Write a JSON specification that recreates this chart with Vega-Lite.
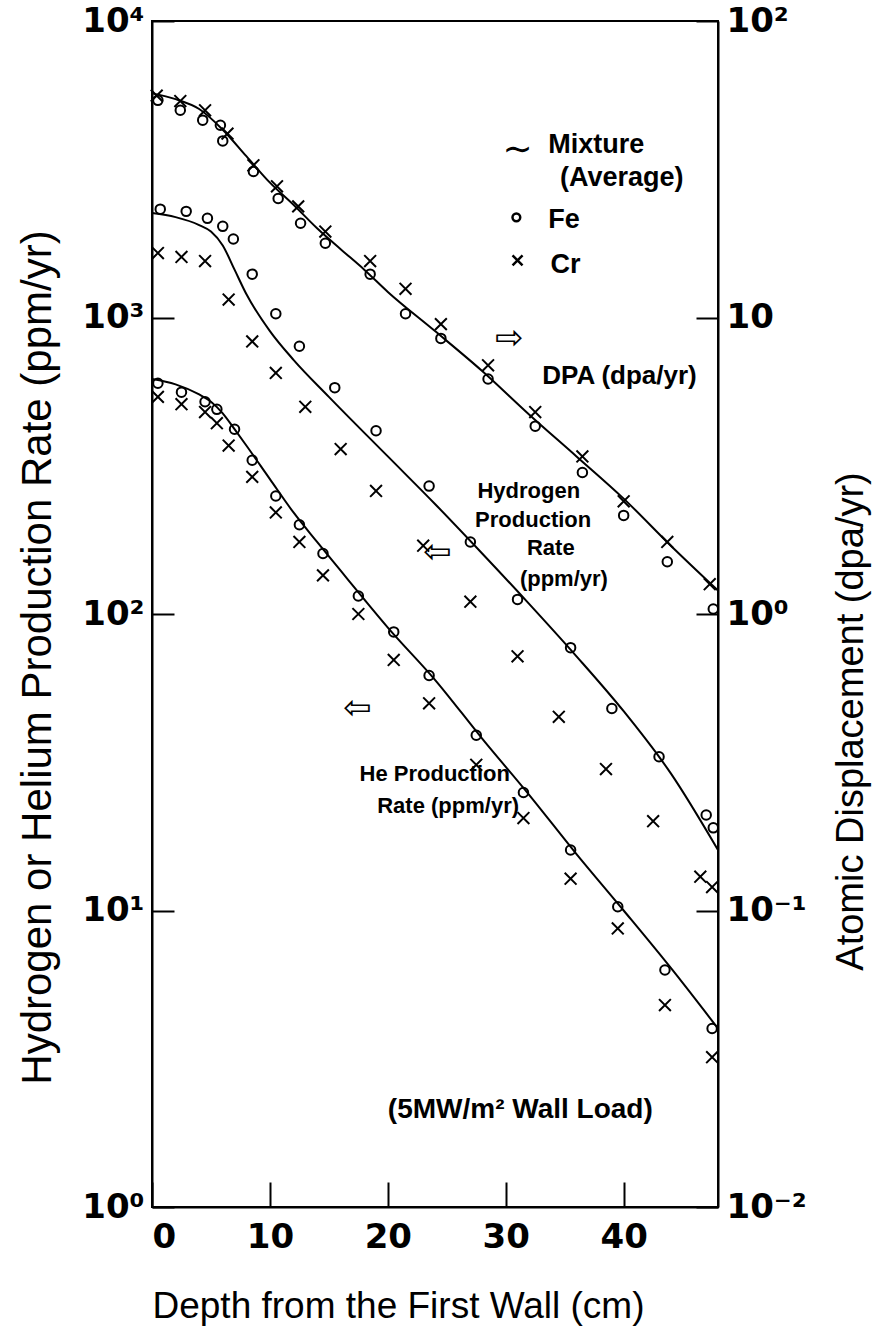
{
  "$schema": "https://vega.github.io/schema/vega-lite/v6.json",
  "width": 566,
  "height": 1186,
  "autosize": {"type": "none"},
  "padding": {"left": 152, "top": 21, "right": 172, "bottom": 124},
  "background": "white",
  "config": {
    "view": {"stroke": "black", "strokeWidth": 2},
    "font": "Liberation Sans",
    "axis": {
      "grid": false,
      "domainColor": "black",
      "domainWidth": 2,
      "tickColor": "black",
      "tickWidth": 2,
      "labelColor": "black",
      "titleColor": "black",
      "labelFont": "DejaVu Sans",
      "titleFont": "Liberation Sans",
      "labelFontWeight": "bold",
      "titleFontWeight": "normal"
    }
  },
  "datasets": {
    "production": [
      {"quantity": "H", "metal": "Fe", "depth": 0.7, "rate": 2320},
      {"quantity": "H", "metal": "Fe", "depth": 2.9, "rate": 2280},
      {"quantity": "H", "metal": "Fe", "depth": 4.7, "rate": 2160},
      {"quantity": "H", "metal": "Fe", "depth": 6.0, "rate": 2030},
      {"quantity": "H", "metal": "Fe", "depth": 6.9, "rate": 1840},
      {"quantity": "H", "metal": "Fe", "depth": 8.5, "rate": 1400},
      {"quantity": "H", "metal": "Fe", "depth": 10.5, "rate": 1030},
      {"quantity": "H", "metal": "Fe", "depth": 12.5, "rate": 800},
      {"quantity": "H", "metal": "Fe", "depth": 15.5, "rate": 580},
      {"quantity": "H", "metal": "Fe", "depth": 19, "rate": 415},
      {"quantity": "H", "metal": "Fe", "depth": 23.5, "rate": 270},
      {"quantity": "H", "metal": "Fe", "depth": 27, "rate": 175},
      {"quantity": "H", "metal": "Fe", "depth": 31, "rate": 112},
      {"quantity": "H", "metal": "Fe", "depth": 35.5, "rate": 77},
      {"quantity": "H", "metal": "Fe", "depth": 39, "rate": 48},
      {"quantity": "H", "metal": "Fe", "depth": 43, "rate": 33},
      {"quantity": "H", "metal": "Fe", "depth": 47, "rate": 21},
      {"quantity": "H", "metal": "Fe", "depth": 47.6, "rate": 19},
      {"quantity": "H", "metal": "Cr", "depth": 0.5, "rate": 1650},
      {"quantity": "H", "metal": "Cr", "depth": 2.5, "rate": 1600},
      {"quantity": "H", "metal": "Cr", "depth": 4.5, "rate": 1550},
      {"quantity": "H", "metal": "Cr", "depth": 6.5, "rate": 1150},
      {"quantity": "H", "metal": "Cr", "depth": 8.5, "rate": 830},
      {"quantity": "H", "metal": "Cr", "depth": 10.5, "rate": 650},
      {"quantity": "H", "metal": "Cr", "depth": 13, "rate": 500},
      {"quantity": "H", "metal": "Cr", "depth": 16, "rate": 360},
      {"quantity": "H", "metal": "Cr", "depth": 19, "rate": 260},
      {"quantity": "H", "metal": "Cr", "depth": 23, "rate": 170},
      {"quantity": "H", "metal": "Cr", "depth": 27, "rate": 110},
      {"quantity": "H", "metal": "Cr", "depth": 31, "rate": 72},
      {"quantity": "H", "metal": "Cr", "depth": 34.5, "rate": 45},
      {"quantity": "H", "metal": "Cr", "depth": 38.5, "rate": 30},
      {"quantity": "H", "metal": "Cr", "depth": 42.5, "rate": 20},
      {"quantity": "H", "metal": "Cr", "depth": 46.5, "rate": 13},
      {"quantity": "H", "metal": "Cr", "depth": 47.5, "rate": 12},
      {"quantity": "H", "metal": "Mix", "depth": 0, "rate": 2250},
      {"quantity": "H", "metal": "Mix", "depth": 2, "rate": 2180},
      {"quantity": "H", "metal": "Mix", "depth": 4, "rate": 2050},
      {"quantity": "H", "metal": "Mix", "depth": 5, "rate": 1950},
      {"quantity": "H", "metal": "Mix", "depth": 6, "rate": 1750},
      {"quantity": "H", "metal": "Mix", "depth": 7, "rate": 1450},
      {"quantity": "H", "metal": "Mix", "depth": 8, "rate": 1200},
      {"quantity": "H", "metal": "Mix", "depth": 10, "rate": 900},
      {"quantity": "H", "metal": "Mix", "depth": 12, "rate": 720},
      {"quantity": "H", "metal": "Mix", "depth": 15, "rate": 540},
      {"quantity": "H", "metal": "Mix", "depth": 20, "rate": 340},
      {"quantity": "H", "metal": "Mix", "depth": 24, "rate": 235},
      {"quantity": "H", "metal": "Mix", "depth": 28, "rate": 160},
      {"quantity": "H", "metal": "Mix", "depth": 32, "rate": 108},
      {"quantity": "H", "metal": "Mix", "depth": 36, "rate": 72},
      {"quantity": "H", "metal": "Mix", "depth": 40, "rate": 47},
      {"quantity": "H", "metal": "Mix", "depth": 44, "rate": 29},
      {"quantity": "H", "metal": "Mix", "depth": 48, "rate": 16},
      {"quantity": "He", "metal": "Fe", "depth": 0.5, "rate": 600},
      {"quantity": "He", "metal": "Fe", "depth": 2.5, "rate": 560},
      {"quantity": "He", "metal": "Fe", "depth": 4.5, "rate": 520},
      {"quantity": "He", "metal": "Fe", "depth": 5.5, "rate": 490},
      {"quantity": "He", "metal": "Fe", "depth": 7, "rate": 420},
      {"quantity": "He", "metal": "Fe", "depth": 8.5, "rate": 330},
      {"quantity": "He", "metal": "Fe", "depth": 10.5, "rate": 250},
      {"quantity": "He", "metal": "Fe", "depth": 12.5, "rate": 200},
      {"quantity": "He", "metal": "Fe", "depth": 14.5, "rate": 160},
      {"quantity": "He", "metal": "Fe", "depth": 17.5, "rate": 115},
      {"quantity": "He", "metal": "Fe", "depth": 20.5, "rate": 87},
      {"quantity": "He", "metal": "Fe", "depth": 23.5, "rate": 62},
      {"quantity": "He", "metal": "Fe", "depth": 27.5, "rate": 39},
      {"quantity": "He", "metal": "Fe", "depth": 31.5, "rate": 25},
      {"quantity": "He", "metal": "Fe", "depth": 35.5, "rate": 16},
      {"quantity": "He", "metal": "Fe", "depth": 39.5, "rate": 10.3},
      {"quantity": "He", "metal": "Fe", "depth": 43.5, "rate": 6.3},
      {"quantity": "He", "metal": "Fe", "depth": 47.5, "rate": 4.0},
      {"quantity": "He", "metal": "Cr", "depth": 0.5, "rate": 540},
      {"quantity": "He", "metal": "Cr", "depth": 2.5, "rate": 510},
      {"quantity": "He", "metal": "Cr", "depth": 4.5, "rate": 480},
      {"quantity": "He", "metal": "Cr", "depth": 5.5, "rate": 440},
      {"quantity": "He", "metal": "Cr", "depth": 6.5, "rate": 370},
      {"quantity": "He", "metal": "Cr", "depth": 8.5, "rate": 290},
      {"quantity": "He", "metal": "Cr", "depth": 10.5, "rate": 220},
      {"quantity": "He", "metal": "Cr", "depth": 12.5, "rate": 175},
      {"quantity": "He", "metal": "Cr", "depth": 14.5, "rate": 135},
      {"quantity": "He", "metal": "Cr", "depth": 17.5, "rate": 100},
      {"quantity": "He", "metal": "Cr", "depth": 20.5, "rate": 70},
      {"quantity": "He", "metal": "Cr", "depth": 23.5, "rate": 50},
      {"quantity": "He", "metal": "Cr", "depth": 27.5, "rate": 31},
      {"quantity": "He", "metal": "Cr", "depth": 31.5, "rate": 20.5},
      {"quantity": "He", "metal": "Cr", "depth": 35.5, "rate": 12.8},
      {"quantity": "He", "metal": "Cr", "depth": 39.5, "rate": 8.7},
      {"quantity": "He", "metal": "Cr", "depth": 43.5, "rate": 4.8},
      {"quantity": "He", "metal": "Cr", "depth": 47.5, "rate": 3.2},
      {"quantity": "He", "metal": "Mix", "depth": 0, "rate": 620},
      {"quantity": "He", "metal": "Mix", "depth": 2, "rate": 595},
      {"quantity": "He", "metal": "Mix", "depth": 4, "rate": 550},
      {"quantity": "He", "metal": "Mix", "depth": 5, "rate": 520},
      {"quantity": "He", "metal": "Mix", "depth": 6, "rate": 475},
      {"quantity": "He", "metal": "Mix", "depth": 7, "rate": 420},
      {"quantity": "He", "metal": "Mix", "depth": 8, "rate": 370},
      {"quantity": "He", "metal": "Mix", "depth": 10, "rate": 285},
      {"quantity": "He", "metal": "Mix", "depth": 12, "rate": 220},
      {"quantity": "He", "metal": "Mix", "depth": 14, "rate": 175},
      {"quantity": "He", "metal": "Mix", "depth": 16, "rate": 140},
      {"quantity": "He", "metal": "Mix", "depth": 18, "rate": 112},
      {"quantity": "He", "metal": "Mix", "depth": 20, "rate": 90},
      {"quantity": "He", "metal": "Mix", "depth": 24, "rate": 60},
      {"quantity": "He", "metal": "Mix", "depth": 28, "rate": 38},
      {"quantity": "He", "metal": "Mix", "depth": 32, "rate": 24.5},
      {"quantity": "He", "metal": "Mix", "depth": 36, "rate": 15.5},
      {"quantity": "He", "metal": "Mix", "depth": 40, "rate": 10},
      {"quantity": "He", "metal": "Mix", "depth": 44, "rate": 6.4},
      {"quantity": "He", "metal": "Mix", "depth": 48, "rate": 4.0}
    ],
    "dpa": [
      {"metal": "Fe", "depth": 0.5, "dpa": 54},
      {"metal": "Fe", "depth": 2.4, "dpa": 50},
      {"metal": "Fe", "depth": 4.3, "dpa": 46.3},
      {"metal": "Fe", "depth": 5.8, "dpa": 44.5},
      {"metal": "Fe", "depth": 6.0, "dpa": 39.4},
      {"metal": "Fe", "depth": 8.6, "dpa": 31.1},
      {"metal": "Fe", "depth": 10.7, "dpa": 25.2},
      {"metal": "Fe", "depth": 12.6, "dpa": 20.8},
      {"metal": "Fe", "depth": 14.7, "dpa": 17.8},
      {"metal": "Fe", "depth": 18.5, "dpa": 14},
      {"metal": "Fe", "depth": 21.5, "dpa": 10.3},
      {"metal": "Fe", "depth": 24.5, "dpa": 8.5},
      {"metal": "Fe", "depth": 28.5, "dpa": 6.2},
      {"metal": "Fe", "depth": 32.5, "dpa": 4.3},
      {"metal": "Fe", "depth": 36.5, "dpa": 3.0},
      {"metal": "Fe", "depth": 40, "dpa": 2.15},
      {"metal": "Fe", "depth": 43.7, "dpa": 1.5},
      {"metal": "Fe", "depth": 47.6, "dpa": 1.04},
      {"metal": "Cr", "depth": 0.4, "dpa": 56},
      {"metal": "Cr", "depth": 2.4, "dpa": 53.7},
      {"metal": "Cr", "depth": 4.5, "dpa": 50},
      {"metal": "Cr", "depth": 6.4, "dpa": 41.7},
      {"metal": "Cr", "depth": 8.6, "dpa": 32.6},
      {"metal": "Cr", "depth": 10.6, "dpa": 27.7},
      {"metal": "Cr", "depth": 12.4, "dpa": 23.7},
      {"metal": "Cr", "depth": 14.7, "dpa": 19.5},
      {"metal": "Cr", "depth": 18.5, "dpa": 15.5},
      {"metal": "Cr", "depth": 21.5, "dpa": 12.5},
      {"metal": "Cr", "depth": 24.5, "dpa": 9.5},
      {"metal": "Cr", "depth": 28.5, "dpa": 6.9},
      {"metal": "Cr", "depth": 32.5, "dpa": 4.8},
      {"metal": "Cr", "depth": 36.5, "dpa": 3.4},
      {"metal": "Cr", "depth": 40, "dpa": 2.4},
      {"metal": "Cr", "depth": 43.7, "dpa": 1.75},
      {"metal": "Cr", "depth": 47.3, "dpa": 1.26},
      {"metal": "Mix", "depth": 0, "dpa": 57},
      {"metal": "Mix", "depth": 2, "dpa": 54.5},
      {"metal": "Mix", "depth": 4, "dpa": 50.5},
      {"metal": "Mix", "depth": 6, "dpa": 43},
      {"metal": "Mix", "depth": 8, "dpa": 35},
      {"metal": "Mix", "depth": 10, "dpa": 28.5},
      {"metal": "Mix", "depth": 12, "dpa": 24},
      {"metal": "Mix", "depth": 14, "dpa": 20},
      {"metal": "Mix", "depth": 16, "dpa": 17},
      {"metal": "Mix", "depth": 18, "dpa": 14.5},
      {"metal": "Mix", "depth": 20, "dpa": 12.2},
      {"metal": "Mix", "depth": 24, "dpa": 9.0},
      {"metal": "Mix", "depth": 28, "dpa": 6.6},
      {"metal": "Mix", "depth": 32, "dpa": 4.7},
      {"metal": "Mix", "depth": 36, "dpa": 3.4},
      {"metal": "Mix", "depth": 40, "dpa": 2.45},
      {"metal": "Mix", "depth": 44, "dpa": 1.7},
      {"metal": "Mix", "depth": 48, "dpa": 1.2}
    ],
    "legend_text": [
      {"depth": 33.6, "rate": 3811, "label": "Mixture"},
      {"depth": 34.6, "rate": 2950, "label": "(Average)"},
      {"depth": 33.6, "rate": 2128, "label": "Fe"},
      {"depth": 33.8, "rate": 1499, "label": "Cr"}
    ],
    "legend_tilde": [{"depth": 31.0, "rate": 3665, "label": "∼"}],
    "legend_fe": [{"depth": 30.9, "rate": 2177}],
    "legend_cr": [{"depth": 31.0, "rate": 1559}],
    "notes": [
      {"depth": 27.6, "rate": 260, "label": "Hydrogen"},
      {"depth": 27.4, "rate": 208, "label": "Production"},
      {"depth": 31.8, "rate": 167, "label": "Rate"},
      {"depth": 31.2, "rate": 131, "label": "(ppm/yr)"},
      {"depth": 17.6, "rate": 28.8, "label": "He Production"},
      {"depth": 19.1, "rate": 22.6, "label": "Rate (ppm/yr)"}
    ],
    "dpa_note": [{"depth": 46.2, "rate": 637, "label": "DPA (dpa/yr)"}],
    "load_note": [{"depth": 20.0, "rate": 2.13, "label": "(5MW/m² Wall Load)"}],
    "arrows": [
      {"depth": 30.3, "rate": 843, "label": "⇨"},
      {"depth": 24.2, "rate": 160, "label": "⇦"},
      {"depth": 17.4, "rate": 47.8, "label": "⇦"}
    ]
  },
  "encoding": {
    "x": {
      "field": "depth",
      "type": "quantitative",
      "scale": {"domain": [0, 48], "nice": false, "zero": false},
      "axis": {
        "values": [0, 10, 20, 30, 40],
        "labelFontSize": 34,
        "tickSize": -25,
        "labelPadding": 38,
        "title": "Depth from the First Wall (cm)",
        "titleFontSize": 37,
        "titlePadding": 34,
        "titleX": 246
      }
    }
  },
  "layer": [
    {
      "encoding": {
        "y": {
          "field": "rate",
          "type": "quantitative",
          "scale": {"type": "log", "domain": [1, 10000], "nice": false},
          "axis": {
            "orient": "left",
            "values": [1, 10, 100, 1000, 10000],
            "labelExpr": "datum.value == 1 ? '10⁰' : datum.value == 10 ? '10¹' : datum.value == 100 ? '10²' : datum.value == 1000 ? '10³' : '10⁴'",
            "labelFontSize": 34,
            "tickSize": -22,
            "labelPadding": 30,
            "title": "Hydrogen or Helium Production Rate (ppm/yr)",
            "titleFontSize": 42,
            "titlePadding": 22,
            "titleY": 636
          }
        }
      },
      "layer": [
        {
          "data": {"name": "production"},
          "transform": [{"filter": "datum.metal == 'Mix'"}],
          "mark": {"type": "line", "color": "black", "strokeWidth": 2, "interpolate": "monotone"},
          "encoding": {"detail": {"field": "quantity"}}
        },
        {
          "data": {"name": "production"},
          "transform": [{"filter": "datum.metal == 'Fe'"}],
          "mark": {"type": "point", "shape": "circle", "filled": false, "color": "black", "strokeWidth": 2, "size": 90, "opacity": 1}
        },
        {
          "data": {"name": "production"},
          "transform": [{"filter": "datum.metal == 'Cr'"}],
          "mark": {"type": "point", "shape": "M-1,-1L1,1M-1,1L1,-1", "filled": false, "color": "black", "strokeWidth": 2, "size": 140, "opacity": 1}
        },
        {
          "data": {"name": "legend_text"},
          "mark": {"type": "text", "align": "left", "baseline": "middle", "fontSize": 27, "fontWeight": "bold", "color": "black"},
          "encoding": {"text": {"field": "label"}}
        },
        {
          "data": {"name": "legend_tilde"},
          "mark": {"type": "text", "align": "center", "baseline": "middle", "fontSize": 36, "font": "DejaVu Sans", "color": "black"},
          "encoding": {"text": {"field": "label"}}
        },
        {
          "data": {"name": "legend_fe"},
          "mark": {"type": "point", "shape": "circle", "filled": false, "color": "black", "strokeWidth": 2.5, "size": 60, "opacity": 1}
        },
        {
          "data": {"name": "legend_cr"},
          "mark": {"type": "point", "shape": "M-1,-1L1,1M-1,1L1,-1", "filled": false, "color": "black", "strokeWidth": 2.5, "size": 100, "opacity": 1}
        },
        {
          "data": {"name": "notes"},
          "mark": {"type": "text", "align": "left", "baseline": "middle", "fontSize": 22, "fontWeight": "bold", "color": "black"},
          "encoding": {"text": {"field": "label"}}
        },
        {
          "data": {"name": "dpa_note"},
          "mark": {"type": "text", "align": "right", "baseline": "middle", "fontSize": 26, "fontWeight": "bold", "color": "black"},
          "encoding": {"text": {"field": "label"}}
        },
        {
          "data": {"name": "load_note"},
          "mark": {"type": "text", "align": "left", "baseline": "middle", "fontSize": 28, "fontWeight": "bold", "color": "black"},
          "encoding": {"text": {"field": "label"}}
        },
        {
          "data": {"name": "arrows"},
          "mark": {"type": "text", "align": "center", "baseline": "middle", "fontSize": 34, "font": "DejaVu Sans", "color": "black"},
          "encoding": {"text": {"field": "label"}}
        }
      ]
    },
    {
      "data": {"name": "dpa"},
      "encoding": {
        "y": {
          "field": "dpa",
          "type": "quantitative",
          "scale": {"type": "log", "domain": [0.01, 100], "nice": false},
          "axis": {
            "orient": "right",
            "values": [0.01, 0.1, 1, 10, 100],
            "labelExpr": "datum.value == 0.01 ? '10⁻²' : datum.value == 0.1 ? '10⁻¹' : datum.value == 1 ? '10⁰' : datum.value == 10 ? '10' : '10²'",
            "labelFontSize": 34,
            "tickSize": -22,
            "labelPadding": 30,
            "title": "Atomic Displacement (dpa/yr)",
            "titleFontSize": 38,
            "titleAngle": 270,
            "titlePadding": 64,
            "titleY": 700
          }
        }
      },
      "layer": [
        {
          "transform": [{"filter": "datum.metal == 'Mix'"}],
          "mark": {"type": "line", "color": "black", "strokeWidth": 2, "interpolate": "monotone"}
        },
        {
          "transform": [{"filter": "datum.metal == 'Fe'"}],
          "mark": {"type": "point", "shape": "circle", "filled": false, "color": "black", "strokeWidth": 2, "size": 90, "opacity": 1}
        },
        {
          "transform": [{"filter": "datum.metal == 'Cr'"}],
          "mark": {"type": "point", "shape": "M-1,-1L1,1M-1,1L1,-1", "filled": false, "color": "black", "strokeWidth": 2, "size": 140, "opacity": 1}
        }
      ]
    }
  ],
  "resolve": {"scale": {"y": "independent"}}
}
